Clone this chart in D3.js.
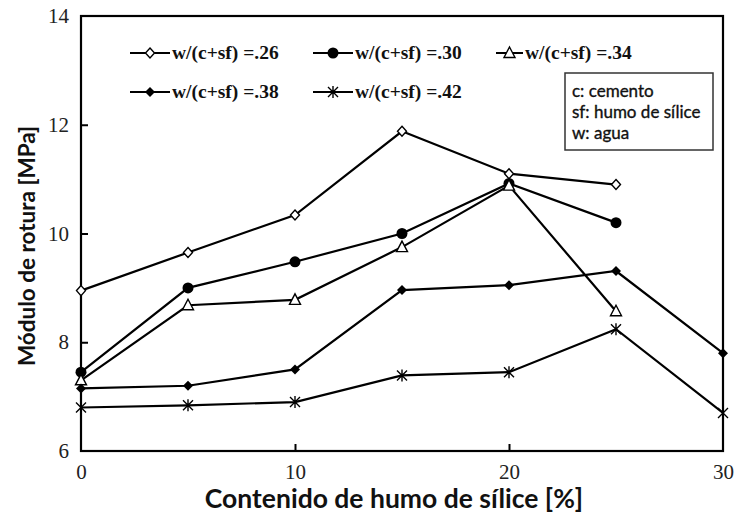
<!DOCTYPE html>
<html><head><meta charset="utf-8">
<script src="https://cdn.jsdelivr.net/npm/d3@7"></script>
<style>body{margin:0;background:#fff}svg{display:block}</style>
</head><body><svg id="c" width="735" height="518"></svg>
<script>
const xValues = [0, 5, 10, 15, 20, 25, 30];
const s26 = [8.95, 9.65, 10.34, 11.88, 11.1, 10.9, null];
const s30 = [7.45, 9.0, 9.48, 10.0, 10.92, 10.2, null];
const s34 = [7.3, 8.68, 8.78, 9.75, 10.88, 8.57, null];
const s38 = [7.15, 7.2, 7.5, 8.96, 9.05, 9.31, 7.8];
const s42 = [6.8, 6.84, 6.9, 7.39, 7.45, 8.24, 6.7];
const seriesNames = ["w/(c+sf) =.26", "w/(c+sf) =.30", "w/(c+sf) =.34", "w/(c+sf) =.38", "w/(c+sf) =.42"];
const markerTypes = ["openDiamond", "filledCircle", "openTriangle", "filledDiamond", "asterisk"];
const xTicks = [0, 10, 20, 30];
const yTicks = [6, 8, 10, 12, 14];
const noteLines = ["c: cemento", "sf: humo de sílice", "w: agua"];
const xTitle = "Contenido de humo de sílice [%]";
const yTitle = "Módulo de rotura [MPa]";

const series = [s26, s30, s34, s38, s42];
const svg = d3.select("#c");
const L = 81, R = 723, T = 16, B = 451;
const x = d3.scaleLinear().domain([0, 30]).range([L, R]);
const y = d3.scaleLinear().domain([6, 14]).range([B, T]);

function marker(g, type, cx, cy) {
  if (type === "openDiamond") {
    g.append("path").attr("d", `M${cx},${cy-5}L${cx+4.5},${cy}L${cx},${cy+5}L${cx-4.5},${cy}Z`)
      .attr("fill", "#fff").attr("stroke", "#000").attr("stroke-width", 1.4);
  } else if (type === "filledCircle") {
    g.append("circle").attr("cx", cx).attr("cy", cy).attr("r", 5.5).attr("fill", "#000");
  } else if (type === "openTriangle") {
    g.append("path").attr("d", `M${cx},${cy-6}L${cx+5.5},${cy+4.5}L${cx-5.5},${cy+4.5}Z`)
      .attr("fill", "#fff").attr("stroke", "#000").attr("stroke-width", 1.4);
  } else if (type === "filledDiamond") {
    g.append("path").attr("d", `M${cx},${cy-5}L${cx+5},${cy}L${cx},${cy+5}L${cx-5},${cy}Z`)
      .attr("fill", "#000");
  } else if (type === "asterisk") {
    g.append("path").attr("d", `M${cx-5},${cy-5}L${cx+5},${cy+5}M${cx-5},${cy+5}L${cx+5},${cy-5}M${cx},${cy-6}L${cx},${cy+6}`)
      .attr("stroke", "#000").attr("stroke-width", 1.4).attr("fill", "none");
  }
}

// frame
svg.append("rect").attr("x", L).attr("y", T).attr("width", R - L).attr("height", B - T)
  .attr("fill", "none").attr("stroke", "#000").attr("stroke-width", 2.2);

// axes (inside ticks)
const yAxis = d3.axisLeft(y).tickValues(yTicks).tickSize(-7).tickPadding(12);
const gy = svg.append("g").attr("transform", `translate(${L},0)`).call(yAxis);
const xAxis = d3.axisBottom(x).tickValues(xTicks).tickSize(-7).tickPadding(12);
const gx = svg.append("g").attr("transform", `translate(0,${B})`).call(xAxis);
[gx, gy].forEach(g => {
  g.select(".domain").remove();
  g.selectAll(".tick line").attr("stroke", "#000").attr("stroke-width", 2);
  g.selectAll(".tick text").attr("fill", "#222").style("font-family", "'Liberation Serif', serif").style("font-size", "21px");
});
gy.selectAll(".tick").filter(d => d === 6 || d === 14).select("line").remove();
gx.selectAll(".tick").filter(d => d === 0 || d === 30).select("line").remove();
gx.selectAll(".tick text").attr("y", 13);

// lines
const line = d3.line().defined(d => d[1] !== null).x(d => x(d[0])).y(d => y(d[1]));
series.forEach((s, i) => {
  const pts = xValues.map((v, j) => [v, s[j]]);
  svg.append("path").datum(pts).attr("d", line).attr("fill", "none")
    .attr("stroke", "#000").attr("stroke-width", 2.2);
});
series.forEach((s, i) => {
  const g = svg.append("g");
  xValues.forEach((v, j) => { if (s[j] !== null) marker(g, markerTypes[i], x(v), y(s[j])); });
});

// legend
const legPos = [[130, 53, 40], [313, 53, 40], [496, 53, 27], [130, 92, 40], [313, 92, 40]];
seriesNames.forEach((name, i) => {
  const [lx, ly, lw] = legPos[i];
  const g = svg.append("g");
  g.append("line").attr("x1", lx).attr("x2", lx + lw).attr("y1", ly).attr("y2", ly).attr("stroke", "#000").attr("stroke-width", 2);
  marker(g, markerTypes[i], lx + lw / 2, ly);
  g.append("text").attr("x", lx + lw + 2).attr("y", ly + 6).text(name)
    .style("font-family", "'Liberation Serif', serif").style("font-weight", "bold").style("font-size", "19.5px").attr("fill", "#111");
});

// note box
svg.append("rect").attr("x", 565).attr("y", 73).attr("width", 148).attr("height", 77)
  .attr("fill", "#fff").attr("stroke", "#333").attr("stroke-width", 1.5);
noteLines.forEach((t, i) => {
  svg.append("text").attr("x", 572).attr("y", 97 + i * 21).text(t)
    .style("font-family", "Lato, sans-serif").style("font-size", "17px")
    .attr("fill", "#111").attr("stroke", "#111").attr("stroke-width", 0.35);
});

// titles
svg.append("text").attr("x", 394).attr("y", 508).attr("text-anchor", "middle").text(xTitle)
  .style("font-family", "Lato, sans-serif").style("font-weight", "bold").style("font-size", "26.5px").attr("fill", "#111");
svg.append("text").attr("transform", "translate(35,246) rotate(-90)").attr("text-anchor", "middle").text(yTitle)
  .style("font-family", "Lato, sans-serif").style("font-weight", "bold").style("font-size", "22.5px").attr("fill", "#111");
</script></body></html>
